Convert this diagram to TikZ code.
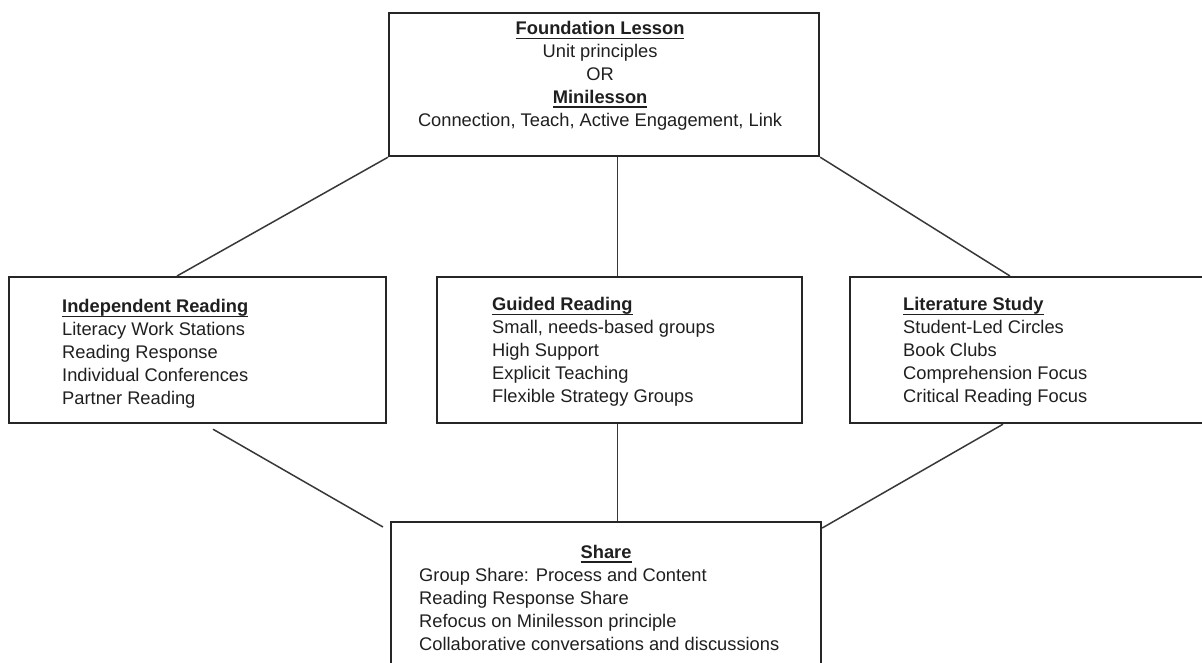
\documentclass[tikz,border=0pt]{standalone}
\usepackage{fontspec}
\setmainfont{Liberation Sans}
\usetikzlibrary{positioning}
\newcommand\uhead[1]{\setbox0\hbox{\bfseries #1}\rlap{\rule[-4.6pt]{\wd0}{1.6pt}}\box0}
\begin{document}
\begin{tikzpicture}[x=1pt,y=-1pt,
  box/.style={draw=black!85,line width=2.2pt,anchor=north west,inner sep=0},
  txt/.style={inner sep=0,anchor=base west,align=left,text=black!88,font=\fontsize{18.3}{22.8}\selectfont},
  link/.style={draw=black!78,line width=1.5pt}]
\clip (0,0) rectangle (1202,662);
\node[box,minimum width=430pt,minimum height=143pt] (found) at (388,12) {};
\node[box,minimum width=377pt,minimum height=146pt] (indep) at (8,276) {};
\node[box,minimum width=365pt,minimum height=146pt] (guided) at (436,276) {};
\node[box,minimum width=380pt,minimum height=146pt] (lit) at (849,276) {};
\node[box,minimum width=430pt,minimum height=170pt] (share) at (390,521) {};
% base of a multi-line node is its last line
\node[txt,anchor=base,align=center] (foundtxt) at ([xshift=-4pt,yshift=-114pt]found.north)
  {\uhead{Foundation Lesson}\\Unit principles\\OR\\\uhead{Minilesson}\\Connection, Teach, Active Engagement, Link};
\node[txt] (indeptxt) at ([xshift=54pt,yshift=-128pt]indep.north west)
  {\uhead{Independent Reading}\\Literacy Work Stations\\Reading Response\\Individual Conferences\\Partner Reading};
\node[txt] (guidedtxt) at ([xshift=56pt,yshift=-126pt]guided.north west)
  {\uhead{Guided Reading}\\Small, needs-based groups\\High Support\\Explicit Teaching\\Flexible Strategy Groups};
\node[txt] (littxt) at ([xshift=54pt,yshift=-126pt]lit.north west)
  {\uhead{Literature Study}\\Student-Led Circles\\Book Clubs\\Comprehension Focus\\Critical Reading Focus};
\node[txt,anchor=base] (sharehd) at ([yshift=-37pt]share.north) {\uhead{Share}};
\node[txt] (sharetxt) at ([xshift=29pt,yshift=-129pt]share.north west)
  {Group Share: Process and Content\\Reading Response Share\\Refocus on Minilesson principle\\Collaborative conversations and discussions};
% connectors
\draw[link] (found.south west) -- ([xshift=169pt]indep.north west);
\draw[link] ([xshift=-2pt]guided.north) -- ([xshift=-2pt]guided.north |- found.south);
\draw[link] (found.south east) -- ([xshift=161pt]lit.north west);
\draw[link] ([xshift=205pt,yshift=-5pt]indep.south west) -- ([xshift=-7pt,yshift=-6pt]share.north west);
\draw[link] ([xshift=-2pt]guided.south) -- ([xshift=-2pt]guided.south |- share.north);
\draw[link] ([xshift=154pt]lit.south west) -- ([yshift=-7pt]share.north east);
\end{tikzpicture}
\end{document}
